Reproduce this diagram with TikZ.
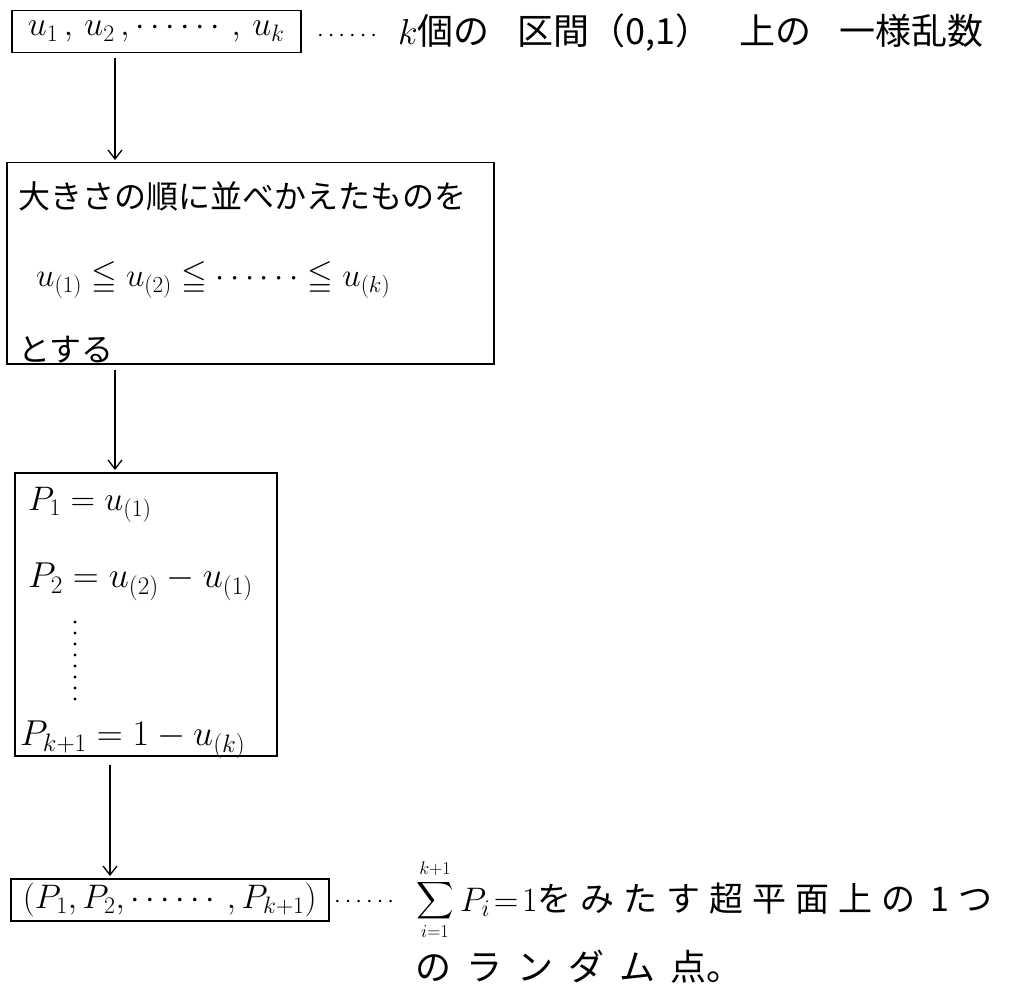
\RequirePackage{fix-cm}
\documentclass[tikz,border=0pt]{standalone}
\usepackage{amsmath,amssymb}
\usepackage{fontspec}
\newfontfamily\jp{Noto Sans CJK JP}
\usetikzlibrary{arrows.meta}
\newcommand\hs{\hspace{28pt}}
\newcommand\hk{\hspace{9pt}}
\newcommand\hl{\hspace{15pt}}
\begin{document}
\begin{tikzpicture}[x=1pt,y=-1pt,
 box/.style={draw,line width=1.5pt,inner sep=0pt,anchor=north west},
 txt/.style={inner sep=0pt,anchor=west,font=\fontsize{36}{40}\selectfont},
 jtxt/.style={inner sep=0pt,anchor=west,font=\fontsize{32}{38}\selectfont\jp},
 arr/.style={line width=1.3pt,-{Straight Barb[length=9pt,width=14pt,line width=1.3pt]}},
 dot/.style={circle,fill,inner sep=0pt,minimum size=3.2pt}]
\fill[white] (0,0) rectangle (1030,984);
\useasboundingbox (0,0) rectangle (1030,984);
% box 1
\node[box,minimum width=289pt,minimum height=42pt,font=\fontsize{34}{38}\selectfont] (b1) at (11,10) {$u_1\,,\,u_2\,,\cdots\cdots,\,u_k$};
\node[txt,font=\fontsize{24}{24}\selectfont] (d1) at (317,36) {$\cdots\cdots$};
\node[jtxt,font=\fontsize{36}{40}\selectfont\jp] (n1) at (398,33) {$k$個の\hs 区間（0,1）\hs 上の\hs 一様乱数};
% box 2
\node[box,minimum width=487pt,minimum height=201pt] (b2) at (6,162) {};
\node[jtxt] (l21) at (18,196) {大きさの順に並べかえたものを};
\node[txt,font=\fontsize{33}{38}\selectfont] (l22) at (36,280) {$u_{(1)}\leqq u_{(2)}\leqq\cdots\cdots\leqq u_{(k)}$};
\node[jtxt] (l23) at (18,350) {とする};
% box 3
\node[box,minimum width=262pt,minimum height=283pt] (b3) at (14,472) {};
\node[txt,font=\fontsize{34}{38}\selectfont] (p1) at (28,505) {$P_1=u_{(1)}$};
\node[txt] (p2) at (28,582) {$P_2=u_{(2)}-u_{(1)}$};
\foreach \i in {0,...,7} \node[dot] (vd\i) at (75,622+11*\i) {};
\node[txt] (pk) at (20,740) {$P_{k+1}=1-u_{(k)}$};
% box 4
\node[box,minimum width=318pt,minimum height=42pt,font=\fontsize{34}{38}\selectfont] (b4) at (10,878) {$(P_1,P_2,\cdots\cdots,P_{k+1})$};
\node[txt,font=\fontsize{24}{24}\selectfont] (d2) at (334,902) {$\cdots\cdots$};
\node[txt,font=\fontsize{26}{30}\selectfont] (sum) at (416,900) {$\displaystyle\sum_{i=1}^{k+1}$};
\node[jtxt,font=\fontsize{34}{40}\selectfont\jp] (n2) at (460,900) {$P_i\!=\!1$を\hk み\hk た\hk す\hk 超\hk 平\hk 面\hk 上\hk の\hl 1\hk つ};
\node[jtxt,font=\fontsize{36}{40}\selectfont\jp] (n3) at (415,967) {の\hl ラ\hl ン\hl ダ\hl ム\hl 点。};
% arrows
\coordinate (a1) at (115,0);
\coordinate (a3) at (110,0);
\draw[arr,shorten <=5pt,shorten >=2pt] (b1.south -| a1) -- (b2.north -| a1);
\draw[arr,shorten <=5pt,shorten >=2pt] (b2.south -| a1) -- (b3.north -| a1);
\draw[arr,shorten <=8pt,shorten >=2pt] (b3.south -| a3) -- (b4.north -| a3);
\end{tikzpicture}
\end{document}
